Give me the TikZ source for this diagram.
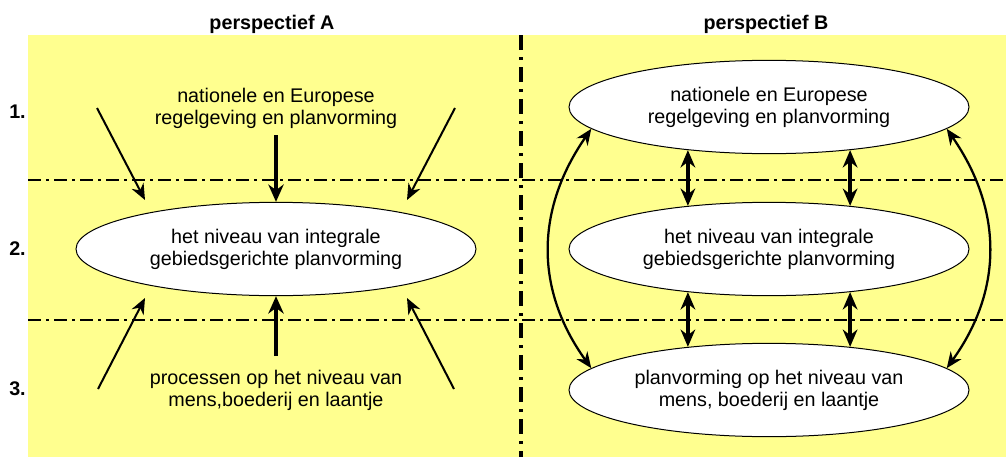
\documentclass[tikz,border=0pt]{standalone}
\usepackage{fontspec}
\setmainfont{Liberation Sans}
\usetikzlibrary{arrows.meta,shapes.geometric}
\definecolor{bgyellow}{HTML}{FFFF8F}
\begin{document}
\begin{tikzpicture}[x=0.75pt,y=-0.75pt,
  every node/.style={font=\fontsize{14.8}{16.5}\selectfont, inner sep=0pt, align=center},
  lvl/.style={ellipse, draw=black, line width=0.75pt, fill=white, minimum width=300pt, minimum height=70pt},
  ttl/.style={font=\fontsize{14.8}{16.5}\selectfont\bfseries, anchor=base},
  nr/.style={font=\fontsize{14.8}{16.5}\selectfont\bfseries, anchor=base west},
  hsep/.style={line width=2pt, dash pattern=on 9.75pt off 3.75pt on 2.25pt off 3.75pt},
  vsep/.style={line width=2.4pt, dash pattern=on 11.25pt off 5.25pt on 2.25pt off 5.25pt},
  arrdiag/.style={line width=1.5pt, -{Stealth[length=12pt,width=10pt]}},
  arrmid/.style={line width=2.3pt, -{Stealth[length=13pt,width=11.5pt]}},
  dbl/.style={line width=2.5pt, {Stealth[length=13pt,width=11pt]}-{Stealth[length=13pt,width=11pt]}},
  dblc/.style={line width=1.7pt, {Stealth[length=12pt,width=10pt]}-{Stealth[length=12pt,width=10pt]}}
]
\useasboundingbox (0,0) rectangle (1006,457);
\fill[bgyellow] (28,35) rectangle (1006,457);

% separators
\draw[hsep] (28,180) -- (1006,180);
\draw[hsep] (28,320) -- (1006,320);
\draw[vsep] (521,35) -- (521,457);

% titles and level numbers
\node[ttl] (tA) at (272,29) {perspectief A};
\node[ttl] (tB) at (766,29) {perspectief B};
\node[nr] (n1) at (9,118) {1.};
\node[nr] (n2) at (9,255) {2.};
\node[nr] (n3) at (9,395) {3.};

% perspective A
\node (a1) at (276,108) {nationele en Europese\\regelgeving en planvorming};
\node[lvl] (a2) at (276,249) {het niveau van integrale\\gebiedsgerichte planvorming};
\node (a3) at (276,390) {processen op het niveau van\\mens,boederij en laantje};

\coordinate (tl) at (97,108);
\coordinate (tle) at (145,200);
\coordinate (tr) at (455,108);
\coordinate (tre) at (407,200);
\coordinate (bl) at (98,389);
\coordinate (ble) at (145,298);
\coordinate (br) at (454,389);
\coordinate (bre) at (407,298);

\draw[arrdiag] (tl) -- (tle);
\draw[arrdiag] (tr) -- (tre);
\draw[arrdiag] (bl) -- (ble);
\draw[arrdiag] (br) -- (bre);
\draw[arrmid, shorten <=5pt] (a1.south) -- (a2.north);
\draw[arrmid, shorten <=10pt] (a3.north) -- (a2.south);

% perspective B
\node[lvl] (b1) at (769,107) {nationele en Europese\\regelgeving en planvorming};
\node[lvl] (b2) at (769,249) {het niveau van integrale\\gebiedsgerichte planvorming};
\node[lvl] (b3) at (769,390) {planvorming op het niveau van\\mens, boederij en laantje};

\draw[dbl] (b1.208) -- (b2.152);
\draw[dbl] (b1.332) -- (b2.28);
\draw[dbl] (b2.208) -- (b3.152);
\draw[dbl] (b2.332) -- (b3.28);

\draw[dblc] (b1.187) .. controls (535,210) and (535,290) .. (b3.173);
\draw[dblc] (b1.353) .. controls (1003,210) and (1003,290) .. (b3.7);
\end{tikzpicture}
\end{document}
